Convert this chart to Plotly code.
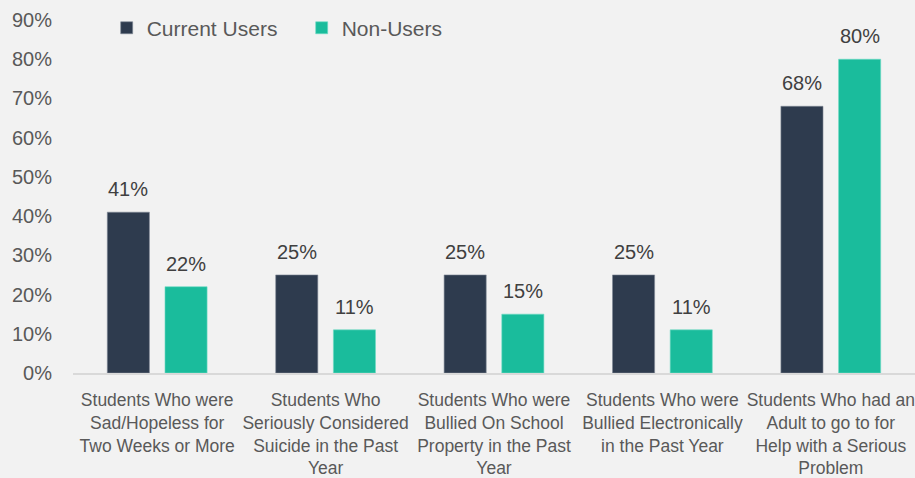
import plotly.graph_objects as go

categories = [
    "Students Who were<br>Sad/Hopeless for<br>Two Weeks or More",
    "Students Who<br>Seriously Considered<br>Suicide in the Past<br>Year",
    "Students Who were<br>Bullied On School<br>Property in the Past<br>Year",
    "Students Who were<br>Bullied Electronically<br>in the Past Year",
    "Students Who had an<br>Adult to go to for<br>Help with a Serious<br>Problem",
]
current_users = [41, 25, 25, 25, 68]
non_users = [22, 11, 15, 11, 80]
tick_vals = [0, 10, 20, 30, 40, 50, 60, 70, 80, 90]
tick_text = [f"{v}%" for v in tick_vals]

FONT = "Liberation Sans, Arial, sans-serif"
DARK = "#2e3b4e"
TEAL = "#1abc9c"

fig = go.Figure()
fig.add_trace(go.Bar(name="Current Users", x=categories, y=current_users,
                     marker=dict(color=DARK, line=dict(color="#7f8896", width=0.6))))
fig.add_trace(go.Bar(name="Non-Users", x=categories, y=non_users,
                     marker=dict(color=TEAL, line=dict(color="#6fdcc4", width=0.6))))

slot_px = 57.5
for vals, shift in ((current_users, -slot_px / 2), (non_users, slot_px / 2)):
    for c, v in zip(categories, vals):
        fig.add_annotation(x=c, y=v, text=f"{v}%", showarrow=False,
                           xshift=shift, yshift=23, yanchor="middle",
                           font=dict(family=FONT, size=20, color="#404040"))

fig.update_layout(
    width=915, height=478,
    margin=dict(l=73, r=0, t=20, b=105, autoexpand=False),
    paper_bgcolor="#f2f2f2", plot_bgcolor="#f2f2f2",
    barmode="group", bargap=0.315, bargroupgap=0.27,
    font=dict(family=FONT, size=18, color="#595959"),
    legend=dict(orientation="h", x=0.04, y=0.977, xanchor="left", yanchor="middle",
                font=dict(family=FONT, size=21, color="#595959"),
                bgcolor="rgba(0,0,0,0)", itemwidth=30, traceorder="normal",
                entrywidth=150),
    showlegend=True,
)
fig.update_xaxes(showgrid=False, showline=True, linecolor="#d9d9d9", linewidth=2,
                 ticks="", tickangle=0, automargin=False, ticklabelstandoff=10,
                 tickfont=dict(family=FONT, size=17.5, color="#595959"))
fig.update_yaxes(range=[0, 90], tickvals=tick_vals, ticktext=tick_text, showgrid=False,
                 zeroline=False, showline=False, ticks="", ticklabelstandoff=20,
                 automargin=False,
                 tickfont=dict(family=FONT, size=20, color="#595959"))

fig.write_html("out.html")
